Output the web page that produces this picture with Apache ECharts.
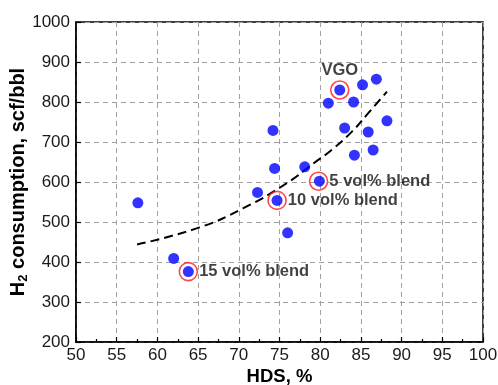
<!DOCTYPE html>
<html>
<head>
<meta charset="utf-8">
<script src="https://cdn.jsdelivr.net/npm/echarts@6/dist/echarts.min.js"></script>
<style>
  html, body { margin: 0; padding: 0; background: #fff; }
  #chart { width: 498px; height: 385px; }
</style>
</head>
<body>
<div id="chart"></div>
<script>
// HDS (%) vs. H2 consumption (scf/bbl) for the individual runs
const runPoints = [
  [57.6, 548], [62.0, 409], [63.8, 376], [72.3, 574], [74.2, 729],
  [74.4, 634], [74.7, 554], [76.0, 473], [78.1, 638], [79.9, 602],
  [81.0, 797], [82.4, 830], [83.0, 735], [84.1, 800], [84.2, 667],
  [85.2, 843], [85.9, 725], [86.5, 680], [86.9, 857], [88.2, 753]
];

// Highlighted feeds
const featuredNames = ['VGO', '5 vol% blend', '10 vol% blend', '15 vol% blend'];
const featuredPoints = [[82.4, 830], [79.8, 602], [74.7, 554], [63.8, 376]];

// Trend curve through the cloud
const trendPoints = [
  [57.5, 444], [65.1, 486], [70.5, 534], [75.9, 597], [79.2, 647],
  [81.4, 680], [83.9, 726], [85.9, 772], [88.2, 826]
];

const xTicks = [50, 100, 5];
const yTicks = [200, 1000, 100];

const font = '"Liberation Sans", Arial, Helvetica, sans-serif';

const chart = echarts.init(document.getElementById('chart'), null, { renderer: 'canvas' });

const featuredData = featuredPoints.map((p, i) => {
  const isTop = featuredNames[i] === 'VGO';
  return {
    value: p,
    name: featuredNames[i],
    label: {
      show: true,
      formatter: featuredNames[i],
      position: isTop ? 'top' : 'right',
      distance: 1
    }
  };
});

chart.setOption({
  animation: false,
  grid: {
    left: 76, right: 15, top: 22, bottom: 43,
    containLabel: false,
    outerBoundsMode: 'none',
    show: true, borderColor: '#000', borderWidth: 1.5, backgroundColor: 'transparent'
  },
  xAxis: {
    type: 'value',
    min: xTicks[0], max: xTicks[1], interval: xTicks[2],
    name: 'HDS, %',
    nameLocation: 'middle',
    nameGap: 25,
    nameMoveOverlap: false,
    nameTextStyle: { fontFamily: font, fontWeight: 'bold', fontSize: 18.5, color: '#000' },
    axisLine: { show: true, onZero: false, lineStyle: { color: '#000', width: 1.5 } },
    axisTick: { show: true, inside: true, length: 5, lineStyle: { color: '#000', width: 1.2 } },
    minorTick: { show: true, splitNumber: 2, length: 3, lineStyle: { color: '#000', width: 1.2 } },
    axisLabel: { fontFamily: font, fontSize: 17, color: '#1a1a1a', margin: 5 },
    splitLine: { show: true, lineStyle: { color: '#a0a0a0', type: [5, 4], width: 1 } }
  },
  yAxis: {
    type: 'value',
    min: yTicks[0], max: yTicks[1], interval: yTicks[2],
    name: '{b|H}{s|2}{b| consumption, scf/bbl}',
    nameLocation: 'middle',
    nameRotate: 90,
    nameGap: 46,
    nameMoveOverlap: false,
    nameTextStyle: {
      rich: {
        b: { fontFamily: font, fontWeight: 'bold', fontSize: 20, color: '#000' },
        s: { fontFamily: font, fontWeight: 'bold', fontSize: 13, color: '#000', verticalAlign: 'bottom', padding: [10, 0, 0, 0] }
      }
    },
    axisLine: { show: true, onZero: false, lineStyle: { color: '#000', width: 1.5 } },
    axisTick: { show: true, inside: true, length: 5, lineStyle: { color: '#000', width: 1.2 } },
    axisLabel: { fontFamily: font, fontSize: 17, color: '#1a1a1a', margin: 6, formatter: v => String(v) },
    splitLine: { show: true, lineStyle: { color: '#a0a0a0', type: [5, 4], width: 1 } }
  },
  series: [
    {
      type: 'line',
      data: trendPoints,
      smooth: true,
      symbol: 'none',
      lineStyle: { color: '#000', width: 2, type: [9, 5] },
      z: 2
    },
    {
      type: 'scatter',
      data: runPoints,
      symbol: 'circle',
      symbolSize: 11,
      itemStyle: { color: '#0000ff' },
      z: 3
    },
    {
      type: 'scatter',
      data: featuredData,
      symbol: 'circle',
      symbolSize: 18,
      itemStyle: { color: 'rgba(0,0,0,0)', borderColor: '#ff1a1a', borderWidth: 1.6 },
      label: { fontFamily: font, fontWeight: 'bold', fontSize: 16.5, color: '#111' },
      z: 4
    }
  ]
});
</script>
</body>
</html>
